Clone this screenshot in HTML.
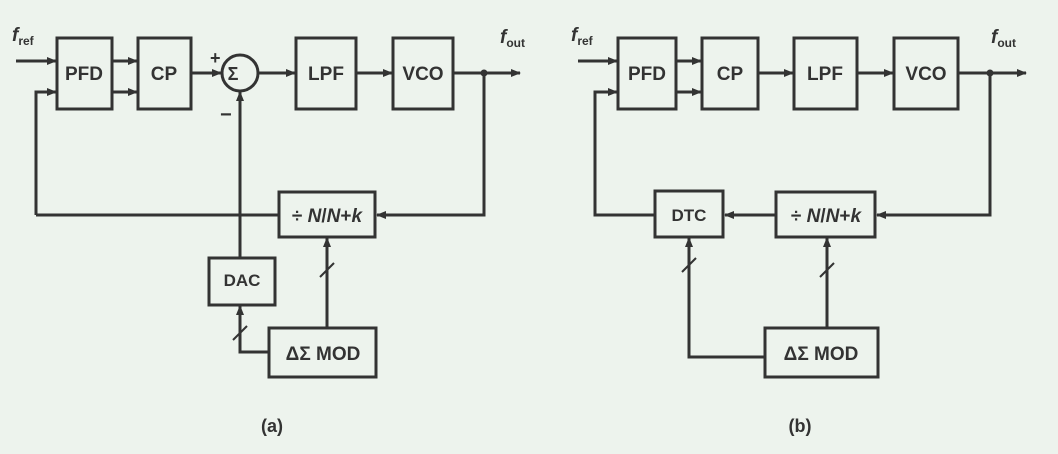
<!DOCTYPE html>
<html><head><style>
html,body{margin:0;padding:0;background:#edf3ed;}
svg{display:block}
text{font-family:"Liberation Sans",sans-serif;font-weight:bold;fill:#333;}
</style></head><body>
<svg width="1058" height="454" viewBox="0 0 1058 454" xmlns="http://www.w3.org/2000/svg">
<defs>
<marker id="ar" markerWidth="10" markerHeight="8" refX="9" refY="4" orient="auto" markerUnits="userSpaceOnUse">
<path d="M0,0 L10,4 L0,8 z" fill="#333"/></marker>
</defs>
<rect width="1058" height="454" fill="#edf3ed"/>
<g stroke="#333" stroke-width="3" fill="none">
<!-- (a) boxes -->
<rect x="57" y="38" width="55" height="71"/>
<rect x="138" y="38" width="53" height="71"/>
<circle cx="240" cy="73" r="18"/>
<rect x="296" y="38" width="60" height="71"/>
<rect x="393" y="38" width="60" height="71"/>
<rect x="279" y="192" width="96" height="45"/>
<rect x="209" y="258" width="66" height="47"/>
<rect x="269" y="328" width="107" height="49"/>
<!-- (a) lines -->
<line x1="16" y1="61" x2="56" y2="61" marker-end="url(#ar)"/>
<polyline points="36,215 36,92 56,92" marker-end="url(#ar)"/>
<line x1="112" y1="61" x2="137" y2="61" marker-end="url(#ar)"/>
<line x1="112" y1="92" x2="137" y2="92" marker-end="url(#ar)"/>
<line x1="191" y1="73" x2="221" y2="73" marker-end="url(#ar)"/>
<line x1="258" y1="73" x2="295" y2="73" marker-end="url(#ar)"/>
<line x1="356" y1="73" x2="392" y2="73" marker-end="url(#ar)"/>
<line x1="453" y1="73" x2="520" y2="73" marker-end="url(#ar)"/>
<polyline points="484,73 484,215 377,215" marker-end="url(#ar)"/>
<line x1="279" y1="215" x2="36" y2="215"/>
<line x1="240" y1="258" x2="240" y2="92" marker-end="url(#ar)"/>
<line x1="327" y1="328" x2="327" y2="238" marker-end="url(#ar)"/>
<polyline points="269,352 240,352 240,306" marker-end="url(#ar)"/>
<line x1="320" y1="277" x2="334" y2="263" stroke-width="2"/>
<line x1="233" y1="340" x2="247" y2="326" stroke-width="2"/>
<!-- (b) boxes -->
<rect x="618" y="38" width="58" height="71"/>
<rect x="702" y="38" width="56" height="71"/>
<rect x="794" y="38" width="63" height="71"/>
<rect x="894" y="38" width="64" height="71"/>
<rect x="655" y="191" width="68" height="46"/>
<rect x="776" y="192" width="99" height="45"/>
<rect x="765" y="328" width="113" height="49"/>
<!-- (b) lines -->
<line x1="578" y1="61" x2="617" y2="61" marker-end="url(#ar)"/>
<polyline points="655,215 595,215 595,92 617,92" marker-end="url(#ar)"/>
<line x1="676" y1="61" x2="701" y2="61" marker-end="url(#ar)"/>
<line x1="676" y1="92" x2="701" y2="92" marker-end="url(#ar)"/>
<line x1="758" y1="73" x2="793" y2="73" marker-end="url(#ar)"/>
<line x1="857" y1="73" x2="893" y2="73" marker-end="url(#ar)"/>
<line x1="958" y1="73" x2="1026" y2="73" marker-end="url(#ar)"/>
<polyline points="990,73 990,215 877,215" marker-end="url(#ar)"/>
<line x1="776" y1="215" x2="725" y2="215" marker-end="url(#ar)"/>
<line x1="827" y1="328" x2="827" y2="238" marker-end="url(#ar)"/>
<polyline points="765,357 689,357 689,238" marker-end="url(#ar)"/>
<line x1="820" y1="277" x2="834" y2="263" stroke-width="2"/>
<line x1="682" y1="272" x2="696" y2="258" stroke-width="2"/>
</g>
<circle cx="484" cy="73" r="3.5" fill="#333"/>
<circle cx="990" cy="73" r="3.5" fill="#333"/>
<g font-size="19" text-anchor="middle">
<text x="84" y="80">PFD</text>
<text x="164" y="80">CP</text>
<text x="326" y="80">LPF</text>
<text x="423" y="80">VCO</text>
<text x="242" y="286" font-size="17">DAC</text>
<text x="327" y="222">÷ <tspan font-style="italic">N</tspan>/<tspan font-style="italic">N</tspan>+<tspan font-style="italic">k</tspan></text>
<text x="323" y="360">ΔΣ MOD</text>
<text x="647" y="80">PFD</text>
<text x="730" y="80">CP</text>
<text x="825" y="80">LPF</text>
<text x="926" y="80">VCO</text>
<text x="689" y="221" font-size="17">DTC</text>
<text x="826" y="222">÷ <tspan font-style="italic">N</tspan>/<tspan font-style="italic">N</tspan>+<tspan font-style="italic">k</tspan></text>
<text x="821" y="360">ΔΣ MOD</text>
<text x="272" y="432" font-weight="normal" font-size="18">(a)</text>
<text x="800" y="432" font-weight="normal" font-size="18">(b)</text>
</g>
<text x="233" y="80" font-size="18" font-weight="normal" text-anchor="middle">Σ</text>
<text x="210" y="64" font-size="18">+</text>
<text x="220" y="121" font-size="20">−</text>
<text x="12" y="41" font-size="19" font-style="italic">f<tspan font-size="12" font-style="normal" dy="4">ref</tspan></text>
<text x="500" y="43" font-size="19" font-style="italic">f<tspan font-size="12" font-style="normal" dy="4">out</tspan></text>
<text x="571" y="41" font-size="19" font-style="italic">f<tspan font-size="12" font-style="normal" dy="4">ref</tspan></text>
<text x="991" y="43" font-size="19" font-style="italic">f<tspan font-size="12" font-style="normal" dy="4">out</tspan></text>
</svg>
</body></html>
